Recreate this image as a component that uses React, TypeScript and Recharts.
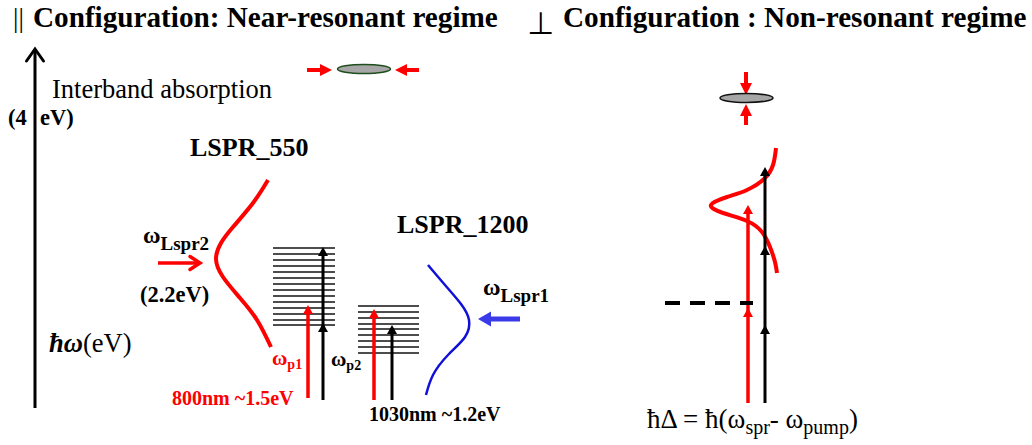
import React from "react";
import { ComposedChart, Line, Scatter, XAxis, YAxis } from "recharts";

const W = 1032;
const H = 445;

type P = { x: number; y: number };
type Tone = "red" | "black" | "blue";

const TONE: Record<Tone, string> = { red: "#FF0000", black: "#000000", blue: "#3A3AE8" };
const SERIF = "Liberation Serif, DejaVu Serif Condensed, DejaVu Serif, serif";

// sub-level ladders: y of each level, x extent
const ladder550Levels = [248, 254, 260, 266, 272, 278, 284, 290, 296, 302, 308, 314, 320, 325];
const ladder550Span = [273, 335];
const ladder1200Levels = [306, 312, 318, 324, 329, 335, 341, 347, 353];
const ladder1200Span = [358, 419];

// resonance line shapes
const lspr550Curve: P[] = [
  { x: 268, y: 180 },
  { x: 253, y: 203 },
  { x: 233, y: 227 },
  { x: 221, y: 243 },
  { x: 216, y: 259 },
  { x: 223, y: 277 },
  { x: 240, y: 298 },
  { x: 257, y: 320 },
  { x: 271, y: 347 },
];
const lspr1200Curve: P[] = [
  { x: 428, y: 265 },
  { x: 445, y: 285 },
  { x: 461, y: 304 },
  { x: 469, y: 320 },
  { x: 465, y: 337 },
  { x: 448, y: 355 },
  { x: 433, y: 375 },
  { x: 426, y: 395 },
];
const detunedCurve: P[] = [
  { x: 776, y: 148 },
  { x: 773, y: 165 },
  { x: 764, y: 179 },
  { x: 747, y: 190 },
  { x: 727, y: 197 },
  { x: 711, y: 205 },
  { x: 723, y: 213 },
  { x: 747, y: 221 },
  { x: 762, y: 232 },
  { x: 770, y: 247 },
  { x: 775, y: 262 },
  { x: 777, y: 273 },
];
const virtualLevel: P[] = [
  { x: 665, y: 303 },
  { x: 753, y: 303 },
];

// photon ladders: x, start y, arrow tips (bottom to top)
const photonArrows: { x: number; base: number; tips: number[]; tone: Tone }[] = [
  { x: 308, base: 398, tips: [305], tone: "red" },
  { x: 323, base: 400, tips: [323, 247], tone: "black" },
  { x: 374, base: 400, tips: [309], tone: "red" },
  { x: 392, base: 400, tips: [325], tone: "black" },
  { x: 748, base: 403, tips: [308, 205], tone: "red" },
  { x: 765, base: 403, tips: [325, 246, 167], tone: "black" },
];

type ArrowKind = "axis" | "pointer" | "level" | "squeeze" | "probe";
const ARROW: Record<ArrowKind, { width: number; len: number; half: number; open: boolean }> = {
  axis: { width: 3, len: 12, half: 8.5, open: true },
  pointer: { width: 3.5, len: 10, half: 6.5, open: true },
  level: { width: 3.5, len: 9, half: 5, open: false },
  squeeze: { width: 4, len: 12, half: 6, open: false },
  probe: { width: 5, len: 13, half: 7.5, open: false },
};

const arrows: { from: P; to: P; tone: Tone; kind: ArrowKind }[] = [
  { from: { x: 35, y: 408 }, to: { x: 35, y: 49 }, tone: "black", kind: "axis" },
  { from: { x: 158, y: 263 }, to: { x: 200, y: 263 }, tone: "red", kind: "pointer" },
  { from: { x: 520, y: 319 }, to: { x: 478, y: 319 }, tone: "blue", kind: "probe" },
  { from: { x: 307, y: 70 }, to: { x: 332, y: 70 }, tone: "red", kind: "squeeze" },
  { from: { x: 419, y: 70 }, to: { x: 395, y: 70 }, tone: "red", kind: "squeeze" },
  { from: { x: 746, y: 72 }, to: { x: 746, y: 95 }, tone: "red", kind: "squeeze" },
  { from: { x: 746, y: 125 }, to: { x: 746, y: 104 }, tone: "red", kind: "squeeze" },
];

const particles: (P & { tone: "green" | "black" })[] = [
  { x: 364, y: 69, tone: "green" },
  { x: 746.5, y: 98, tone: "black" },
];

type Role =
  | "title" | "bars" | "perp" | "plain" | "heading" | "note"
  | "omegaBig" | "omegaSmall" | "wavelength" | "formula";

const TYPE: Record<Role, { size: number; weight: string; sub?: number; shift?: number; family?: string }> = {
  title: { size: 29.2, weight: "bold" },
  bars: { size: 27, weight: "normal" },
  perp: { size: 31, weight: "normal", family: "DejaVu Sans, sans-serif" },
  plain: { size: 26.5, weight: "normal" },
  heading: { size: 26, weight: "bold" },
  note: { size: 22.5, weight: "bold" },
  omegaBig: { size: 24, weight: "bold", sub: 19, shift: 7 },
  omegaSmall: { size: 21, weight: "bold", sub: 14, shift: 4 },
  wavelength: { size: 20, weight: "bold" },
  formula: { size: 27, weight: "normal", sub: 20, shift: 6 },
};

const labels: { x: number; y: number; text: string; role: Role; tone?: Tone }[] = [
  { x: 13, y: 27, text: "||", role: "bars" },
  { x: 33, y: 27, text: "Configuration: Near-resonant regime", role: "title" },
  { x: 527, y: 34, text: "⊥", role: "perp" },
  { x: 563, y: 27, text: "Configuration : Non-resonant regime", role: "title" },
  { x: 52, y: 98, text: "Interband absorption", role: "plain" },
  { x: 8, y: 125, text: "(4", role: "note" },
  { x: 40, y: 125, text: "eV)", role: "note" },
  { x: 190, y: 156, text: "LSPR_550", role: "heading" },
  { x: 397, y: 233, text: "LSPR_1200", role: "heading" },
  { x: 143, y: 243, text: "ω_{Lspr2}", role: "omegaBig" },
  { x: 140, y: 302, text: "(2.2eV)", role: "note" },
  { x: 483, y: 295, text: "ω_{Lspr1}", role: "omegaBig" },
  { x: 49, y: 352, text: "*ħω*(eV)", role: "plain" },
  { x: 272, y: 365, text: "ω_{p1}", role: "omegaSmall", tone: "red" },
  { x: 331, y: 366, text: "ω_{p2}", role: "omegaSmall" },
  { x: 172, y: 405, text: "800nm ~1.5eV", role: "wavelength", tone: "red" },
  { x: 369, y: 421, text: "1030nm ~1.2eV", role: "wavelength" },
  { x: 647, y: 428, text: "ħΔ = ħ(ω_{spr}- ω_{pump})", role: "formula" },
];

// ---- derived geometry (shafts / heads) ----
type Head = P & { ux: number; uy: number; tone: Tone; kind: ArrowKind };

const shafts: { pts: P[]; tone: Tone; width: number }[] = [];
const heads: Head[] = [];

arrows.forEach((a) => {
  const dx = a.to.x - a.from.x;
  const dy = a.to.y - a.from.y;
  const d = Math.hypot(dx, dy);
  const ux = dx / d;
  const uy = dy / d;
  const s = ARROW[a.kind];
  const back = s.open ? 1 : s.len * 0.6;
  shafts.push({
    pts: [a.from, { x: a.to.x - ux * back, y: a.to.y - uy * back }],
    tone: a.tone,
    width: s.width,
  });
  heads.push({ x: a.to.x, y: a.to.y, ux, uy, tone: a.tone, kind: a.kind });
});

photonArrows.forEach((a) => {
  const top = a.tips[a.tips.length - 1];
  shafts.push({
    pts: [{ x: a.x, y: a.base }, { x: a.x, y: top + ARROW.level.len * 0.6 }],
    tone: a.tone,
    width: a.tone === "red" ? 3.5 : 3,
  });
  a.tips.forEach((t) => heads.push({ x: a.x, y: t, ux: 0, uy: -1, tone: a.tone, kind: "level" }));
});

const levelLines = [
  ...ladder550Levels.map((y) => [{ x: ladder550Span[0], y }, { x: ladder550Span[1], y }]),
  ...ladder1200Levels.map((y) => [{ x: ladder1200Span[0], y }, { x: ladder1200Span[1], y }]),
];

function ArrowHead(props: any) {
  const { cx, cy, payload } = props;
  const s = ARROW[payload.kind as ArrowKind];
  const color = TONE[payload.tone as Tone];
  const { ux, uy } = payload;
  const bx = cx - ux * s.len;
  const by = cy - uy * s.len;
  const px = -uy * s.half;
  const py = ux * s.half;
  const pts = `${bx + px},${by + py} ${cx},${cy} ${bx - px},${by - py}`;
  if (s.open) {
    return (
      <polyline
        points={pts}
        fill="none"
        stroke={color}
        strokeWidth={s.width}
        strokeLinecap="round"
        strokeLinejoin="miter"
      />
    );
  }
  return <polygon points={pts} fill={color} />;
}

function Particle(props: any) {
  const { cx, cy, payload } = props;
  return (
    <ellipse
      cx={cx}
      cy={cy}
      rx={26.5}
      ry={4.5}
      fill="#A6A6A6"
      stroke={payload.tone === "green" ? "#1E4D1E" : "#111111"}
      strokeWidth={1.5}
    />
  );
}

function rich(src: string, subSize?: number, shift = 0) {
  const parts = src.split(/(_\{[^}]*\}|\*[^*]*\*)/).filter(Boolean);
  let cur = 0;
  return parts.map((p, i) => {
    if (p.startsWith("_{")) {
      const dy = shift - cur;
      cur = shift;
      return (
        <tspan key={i} dy={dy} fontSize={subSize}>
          {p.slice(2, -1)}
        </tspan>
      );
    }
    const dy = -cur;
    cur = 0;
    if (p.startsWith("*")) {
      return (
        <tspan key={i} dy={dy || undefined} fontStyle="italic" fontWeight="bold">
          {p.slice(1, -1)}
        </tspan>
      );
    }
    return (
      <tspan key={i} dy={dy || undefined}>
        {p}
      </tspan>
    );
  });
}

function Label(props: any) {
  const { cx, cy, payload } = props;
  const t = TYPE[payload.role as Role];
  return (
    <text
      x={cx}
      y={cy}
      style={{ fontFamily: t.family ?? SERIF }}
      fontSize={t.size}
      fontWeight={t.weight}
      fill={TONE[(payload.tone ?? "black") as Tone]}
    >
      {rich(payload.text, t.sub, t.shift)}
    </text>
  );
}

export default function App() {
  return (
    <div style={{ position: "absolute", left: 0, top: 0, width: W, height: H, background: "#fff" }}>
      <ComposedChart width={W} height={H} margin={{ top: 0, right: 0, bottom: 0, left: 0 }}>
        <XAxis type="number" dataKey="x" domain={[0, W]} allowDataOverflow hide />
        <YAxis type="number" dataKey="y" domain={[0, H]} reversed allowDataOverflow hide />

        {levelLines.map((pts, i) => (
          <Line
            key={`lvl${i}`}
            data={pts}
            dataKey="y"
            type="linear"
            stroke="#4D4D4D"
            strokeWidth={2}
            dot={false}
            isAnimationActive={false}
          />
        ))}

        <Line data={lspr550Curve} dataKey="y" type="natural" stroke={TONE.red} strokeWidth={4}
          dot={false} isAnimationActive={false} />
        <Line data={lspr1200Curve} dataKey="y" type="natural" stroke="#1010D8" strokeWidth={2.5}
          dot={false} isAnimationActive={false} />
        <Line data={detunedCurve} dataKey="y" type="natural" stroke={TONE.red} strokeWidth={4}
          dot={false} isAnimationActive={false} />

        {shafts.map((s, i) => (
          <Line
            key={`sh${i}`}
            data={s.pts}
            dataKey="y"
            type="linear"
            stroke={TONE[s.tone]}
            strokeWidth={s.width}
            dot={false}
            isAnimationActive={false}
          />
        ))}

        <Line data={virtualLevel} dataKey="y" type="linear" stroke="#000" strokeWidth={4}
          strokeDasharray="15 10" dot={false} isAnimationActive={false} />

        <Scatter data={heads} shape={<ArrowHead />} isAnimationActive={false} />
        <Scatter data={particles} shape={<Particle />} isAnimationActive={false} />
        <Scatter data={labels} shape={<Label />} isAnimationActive={false} />
      </ComposedChart>
    </div>
  );
}
